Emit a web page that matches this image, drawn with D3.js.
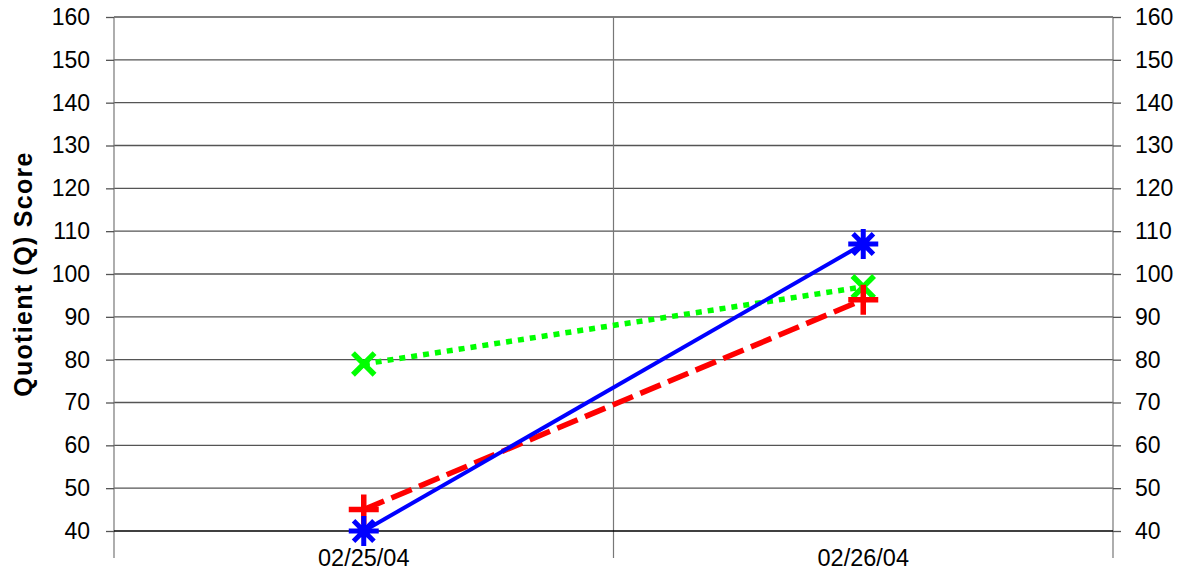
<!DOCTYPE html>
<html><head><meta charset="utf-8">
<script src="https://cdn.jsdelivr.net/npm/d3@7"></script>
<style>body{margin:0;background:#fff;}svg{display:block;font-family:Arial,"Liberation Sans",sans-serif;}</style>
</head><body><svg id="c" width="1185" height="573"></svg>
<script>
const categories = ["02/25/04", "02/26/04"];
const blueValues = [40, 107];
const redValues = [45, 94];
const greenValues = [79, 97];
const yTicks = [40, 50, 60, 70, 80, 90, 100, 110, 120, 130, 140, 150, 160];
const yTitle = "Quotient (Q) Score";

const svg = d3.select("#c");
const L = 114, R = 1113, T = 17, B = 531, axisBottom = 558;
const x = d3.scaleBand().domain(categories).range([L, R]);
const y = d3.scaleLinear().domain([40, 160]).range([B, T]);
const cx = d => x(d) + x.bandwidth() / 2;

// horizontal gridlines
svg.append("g").selectAll("line").data(yTicks.filter(t => t > 40)).join("line")
  .attr("x1", L).attr("x2", R).attr("y1", d => y(d)).attr("y2", d => y(d))
  .attr("stroke", "#555").attr("stroke-width", 1.3);
// vertical lines (category boundaries)
const bounds = [L].concat(categories.map(c => x(c) + x.bandwidth()));
svg.append("g").selectAll("line").data(bounds).join("line")
  .attr("x1", d => d).attr("x2", d => d).attr("y1", T).attr("y2", axisBottom)
  .attr("stroke", "#777").attr("stroke-width", 1.2);

// left axis
const ya = d3.axisLeft(y).tickValues(yTicks).tickSize(8).tickPadding(16);
const gl = svg.append("g").attr("transform", `translate(${L},0)`).call(ya);
gl.select(".domain").remove();
gl.selectAll(".tick line").attr("stroke", "#555").attr("stroke-width", 1.3);
gl.selectAll("text").attr("font-size", 23).attr("fill", "#000").attr("font-family", "Arial, Liberation Sans, sans-serif");
// right axis
const yr = d3.axisRight(y).tickValues(yTicks).tickSize(8).tickPadding(14);
const gr = svg.append("g").attr("transform", `translate(${R},0)`).call(yr);
gr.select(".domain").remove();
gr.selectAll(".tick line").attr("stroke", "#555").attr("stroke-width", 1.3);
gr.selectAll("text").attr("font-size", 23).attr("fill", "#000").attr("font-family", "Arial, Liberation Sans, sans-serif");

// bottom axis line
svg.append("line").attr("x1", L).attr("x2", R).attr("y1", B).attr("y2", B)
  .attr("stroke", "#000").attr("stroke-width", 1.5);
// category labels
svg.append("g").selectAll("text").data(categories).join("text")
  .attr("x", d => cx(d)).attr("y", 566).attr("text-anchor", "middle")
  .attr("font-size", 23.5).text(d => d);

// y title
svg.append("text").attr("transform", `translate(32,${(T + B) / 2}) rotate(-90)`)
  .attr("text-anchor", "middle").attr("font-size", 25).attr("font-weight", "bold")
  .attr("letter-spacing", 1.3).text(yTitle);

const line = d3.line().x((d, i) => cx(categories[i])).y(d => y(d));

svg.append("path").datum(greenValues).attr("d", line).attr("fill", "none")
  .attr("stroke", "#00ff00").attr("stroke-width", 5.5).attr("stroke-dasharray", "6,6");
svg.append("path").datum(redValues).attr("d", line).attr("fill", "none")
  .attr("stroke", "#ff0000").attr("stroke-width", 5.5).attr("stroke-dasharray", "22,8");
svg.append("path").datum(blueValues).attr("d", line).attr("fill", "none")
  .attr("stroke", "#0000ff").attr("stroke-width", 4);

// markers
const s = 15;
// green X
const g = s * 0.72;
svg.append("g").selectAll("path").data(greenValues).join("path")
  .attr("transform", (d, i) => `translate(${cx(categories[i])},${y(d)})`)
  .attr("d", `M${-g},${-g}L${g},${g}M${-g},${g}L${g},${-g}`)
  .attr("stroke", "#00ff00").attr("stroke-width", 5.5).attr("fill", "none");
// red +
svg.append("g").selectAll("path").data(redValues).join("path")
  .attr("transform", (d, i) => `translate(${cx(categories[i])},${y(d)})`)
  .attr("d", `M${-s},0L${s},0M0,${-s}L0,${s}`)
  .attr("stroke", "#ff0000").attr("stroke-width", 5.5).attr("fill", "none");
// blue asterisk
const a = s * 0.68;
svg.append("g").selectAll("path").data(blueValues).join("path")
  .attr("transform", (d, i) => `translate(${cx(categories[i])},${y(d)})`)
  .attr("d", `M${-s},0L${s},0M0,${-s}L0,${s}M${-a},${-a}L${a},${a}M${-a},${a}L${a},${-a}`)
  .attr("stroke", "#0000ff").attr("stroke-width", 5).attr("fill", "none");
</script></body></html>
